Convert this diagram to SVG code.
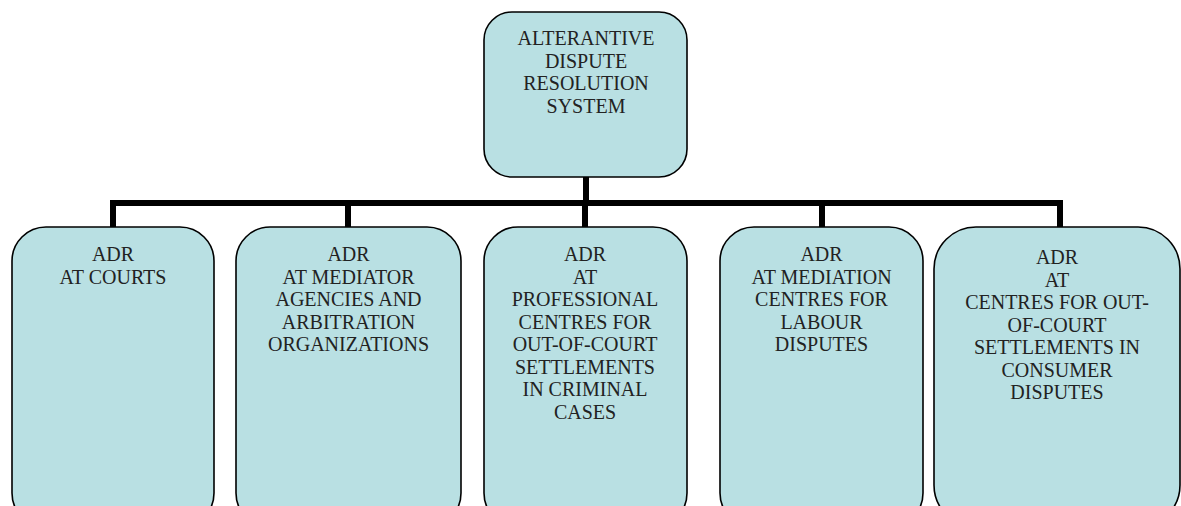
<svg xmlns="http://www.w3.org/2000/svg" width="1181" height="506" viewBox="0 0 1181 506">
<style>
.box{fill:#B9E0E3;stroke:#000;stroke-width:1.6}
.t{font-family:"Liberation Serif","Times New Roman",serif;font-size:20px;fill:#222;text-anchor:middle}
.c{stroke:#000;stroke-width:6;fill:none}
</style>
<rect width="1181" height="506" fill="#fff"/>
<g id="connectors">
<path class="c" d="M586 177 V203"/>
<path class="c" d="M110 203 H1063"/>
<path class="c" d="M113 203 V228 M348 203 V228 M585 203 V228 M822 203 V228 M1060 203 V228"/>
</g>
<g id="root">
<rect class="box" x="484" y="12" width="203" height="165" rx="28"/>
<text class="t" x="586" y="45">ALTERANTIVE</text>
<text class="t" x="586" y="67.7">DISPUTE</text>
<text class="t" x="586" y="90.3">RESOLUTION</text>
<text class="t" x="586" y="113">SYSTEM</text>
</g>
<g id="courts">
<rect class="box" x="12" y="227" width="202" height="300" rx="34"/>
<text class="t" x="113" y="261">ADR</text>
<text class="t" x="113" y="283.5">AT COURTS</text>
</g>
<g id="mediator">
<rect class="box" x="236" y="227" width="225" height="300" rx="34"/>
<text class="t" x="348.5" y="261">ADR</text>
<text class="t" x="348.5" y="283.5">AT MEDIATOR</text>
<text class="t" x="348.5" y="306">AGENCIES AND</text>
<text class="t" x="348.5" y="328.5">ARBITRATION</text>
<text class="t" x="348.5" y="351">ORGANIZATIONS</text>
</g>
<g id="criminal">
<rect class="box" x="484" y="227" width="203" height="300" rx="34"/>
<text class="t" x="585" y="261">ADR</text>
<text class="t" x="585" y="283.5">AT</text>
<text class="t" x="585" y="306">PROFESSIONAL</text>
<text class="t" x="585" y="328.5">CENTRES FOR</text>
<text class="t" x="585" y="351">OUT-OF-COURT</text>
<text class="t" x="585" y="373.5">SETTLEMENTS</text>
<text class="t" x="585" y="396">IN CRIMINAL</text>
<text class="t" x="585" y="418.5">CASES</text>
</g>
<g id="labour">
<rect class="box" x="720" y="227" width="203" height="300" rx="34"/>
<text class="t" x="821.5" y="261">ADR</text>
<text class="t" x="821.5" y="283.5">AT MEDIATION</text>
<text class="t" x="821.5" y="306">CENTRES FOR</text>
<text class="t" x="821.5" y="328.5">LABOUR</text>
<text class="t" x="821.5" y="351">DISPUTES</text>
</g>
<g id="consumer">
<rect class="box" x="934" y="227" width="246" height="300" rx="42"/>
<text class="t" x="1057" y="264">ADR</text>
<text class="t" x="1057" y="286.5">AT</text>
<text class="t" x="1057" y="309">CENTRES FOR OUT-</text>
<text class="t" x="1057" y="331.5">OF-COURT</text>
<text class="t" x="1057" y="354">SETTLEMENTS IN</text>
<text class="t" x="1057" y="376.5">CONSUMER</text>
<text class="t" x="1057" y="399">DISPUTES</text>
</g>
</svg>
